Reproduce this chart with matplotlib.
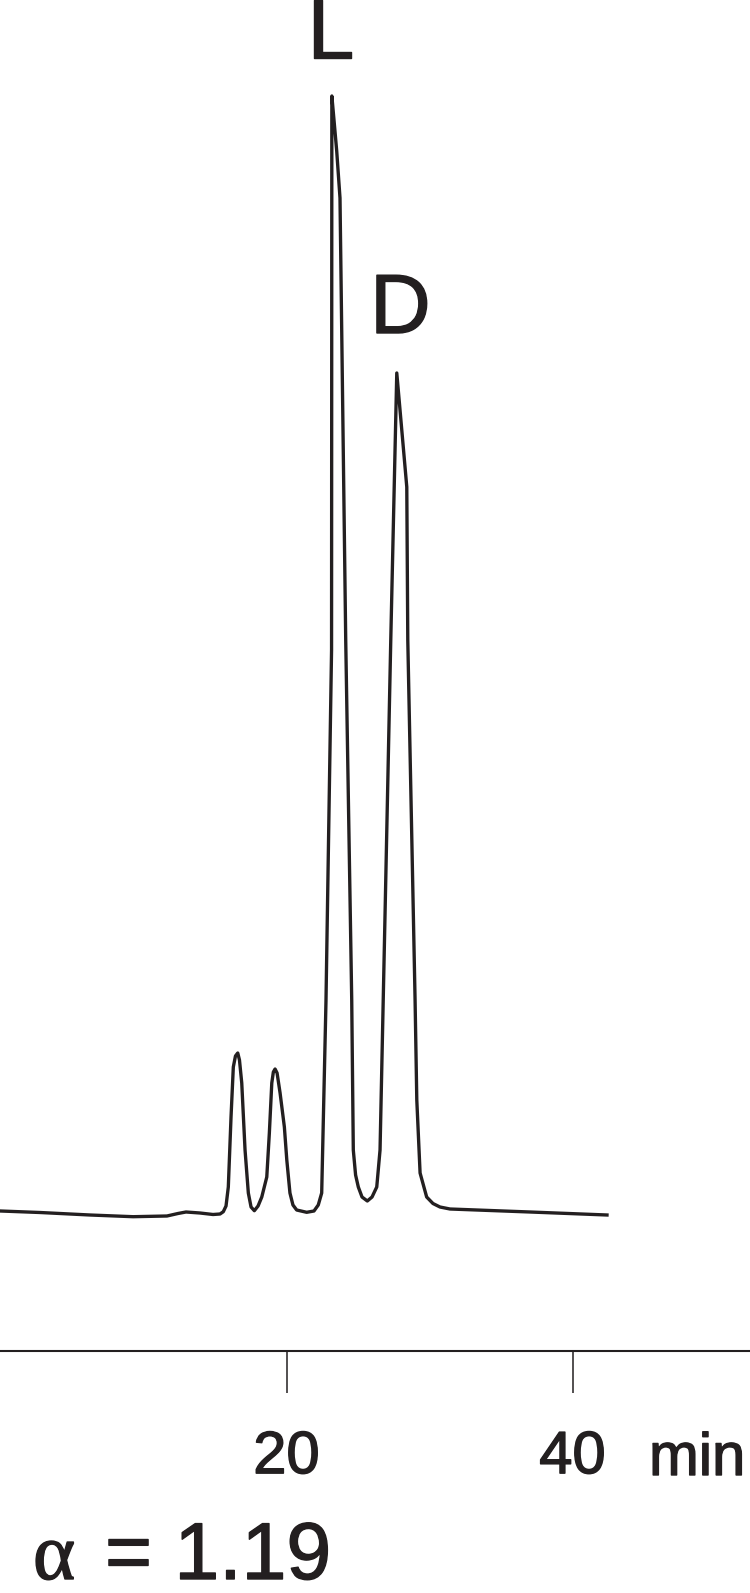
import matplotlib
matplotlib.use("Agg")
import matplotlib.pyplot as plt
import matplotlib.patheffects as pe

# ---- data ----
time_min = [0.0, 2.76, 6.26, 9.27, 11.64, 12.41, 12.97, 13.95, 14.86, 15.35,
            15.58, 15.77, 15.93, 16.12, 16.28, 16.43, 16.59, 16.71, 16.87, 17.10,
            17.33, 17.52, 17.75, 18.01, 18.27, 18.62, 18.80, 18.97, 19.08, 19.20,
            19.34, 19.55, 19.85, 20.02, 20.24, 20.45, 20.71, 21.41, 21.92, 22.22,
            22.46, 22.76, 23.15, 23.17, 23.32, 23.51, 23.74, 24.14, 24.56, 24.67,
            24.83, 25.02, 25.28, 25.65, 25.98, 26.31, 26.54, 26.89, 27.29, 27.71,
            28.41, 28.48, 28.99, 29.11, 29.34, 29.80, 30.24, 30.73, 31.43, 37.03,
            42.41]
signal = [2, 0.5, -2, -3.7, -3, -0.5, 1, 0, -1.5, -1,
          1.3, 7, 26, 96, 146, 157, 160, 153, 130, 63,
          20, 6, 2.3, 7, 16, 36, 80, 130, 141, 144,
          140, 120, 86, 53, 20, 8, 3, 0.7, 2, 8,
          20, 212, 563, 1117, 1093, 1062, 1015, 573, 213, 63,
          38, 26, 16, 12, 16, 26, 63, 299, 573, 840,
          726, 573, 213, 113, 40, 16, 9.5, 6, 4, 1,
          -2]

peak_names = ["L", "D"]
peak_times = [23.08, 27.96]
label_heights = [1155, 880]

tick_values = [20, 40]
tick_labels = ["20", "40"]
unit_label = "min"
alpha_value = "1.19"

ink = "#231f20"
heavy = [pe.withStroke(linewidth=1.0, foreground=ink)]

fig = plt.figure(figsize=(7.5, 15.93), dpi=100)
ax = fig.add_axes([0, 0, 1, 1])
ax.patch.set_visible(False)

ax.plot(time_min, signal, color=ink, lw=2.4, solid_joinstyle="round")

ax.set_xlim(-0.035, 52.41)
ax.set_ylim(-380, 1213)

for name, t, h in zip(peak_names, peak_times, label_heights):
    ax.text(t, h, name, ha="center", va="baseline", fontsize=60.5,
            family="Liberation Sans", color=ink, path_effects=heavy)

for s in ["top", "left", "right"]:
    ax.spines[s].set_visible(False)
ax.spines["bottom"].set_position(("data", -138))
ax.spines["bottom"].set_linewidth(1.5)
ax.spines["bottom"].set_color(ink)
ax.set_yticks([])
ax.set_xticks(tick_values)
ax.set_xticklabels(tick_labels, family="Liberation Sans")
for lab in ax.get_xticklabels():
    lab.set_path_effects(heavy)
ax.tick_params(axis="x", direction="out", length=30, width=1.1, color=ink,
               labelsize=43, labelcolor=ink, pad=27)

ax.text(45.35, -262, unit_label, ha="left", va="baseline", fontsize=43,
        family="Liberation Sans", color=ink, path_effects=heavy)

fig.text(33 / 750, 14 / 1593, "\u03b1", ha="left", va="baseline", fontsize=58,
         family="Liberation Serif", color=ink, path_effects=heavy)
fig.text(105 / 750, 14 / 1593, "= " + alpha_value, ha="left", va="baseline",
         fontsize=58, family="Liberation Sans", color=ink, path_effects=heavy)

fig.savefig("out.png", dpi=100)
